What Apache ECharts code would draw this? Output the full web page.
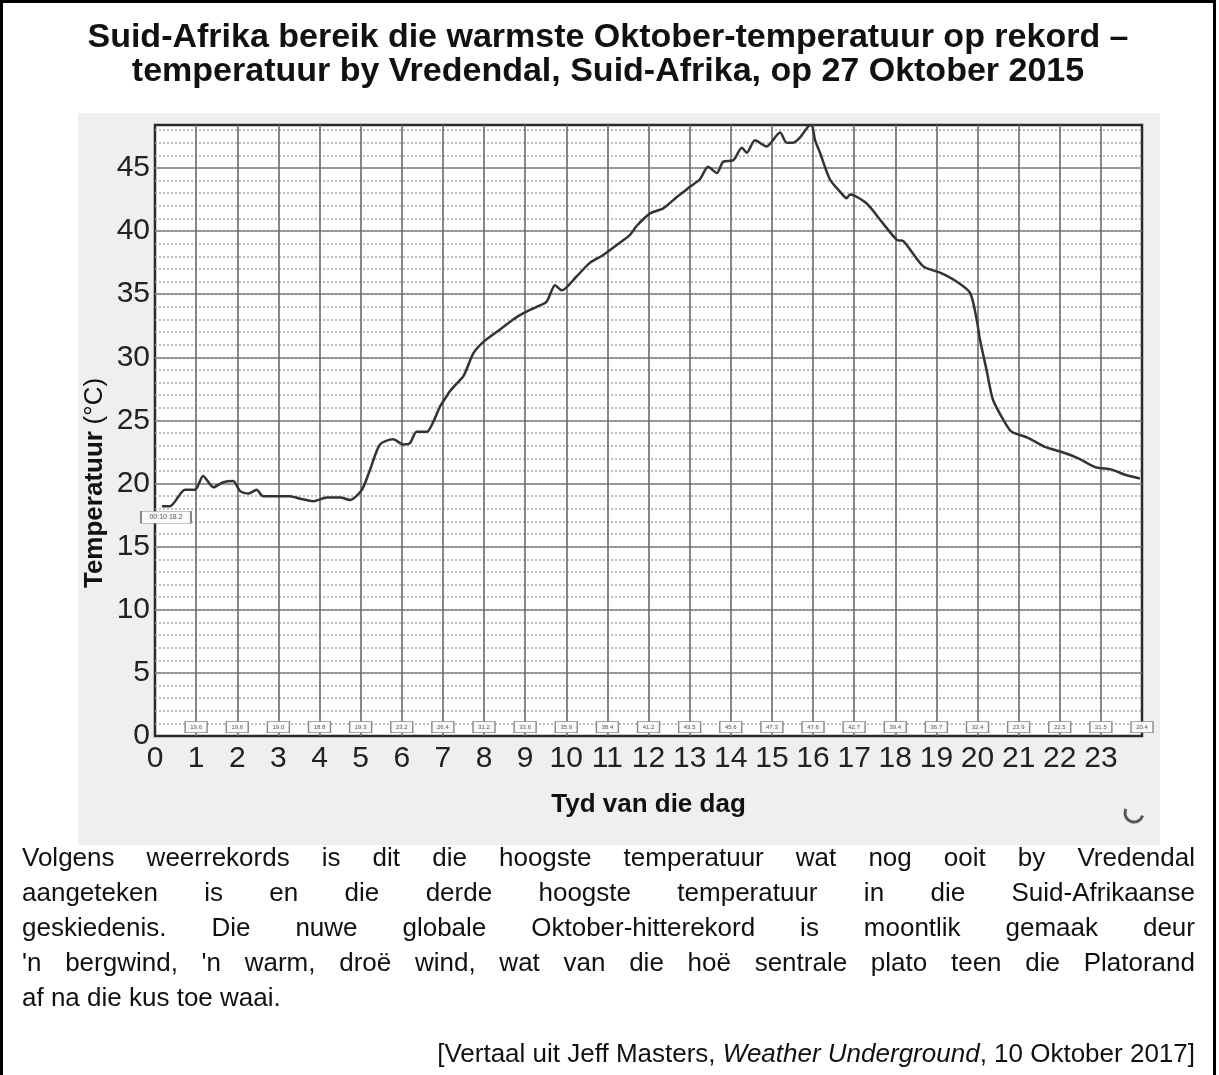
<!DOCTYPE html>
<html>
<head>
<meta charset="utf-8">
<script src="https://cdn.jsdelivr.net/npm/echarts@6/dist/echarts.min.js"></script>
<style>
  body { margin: 0; background: #fff; }
  #page { position: relative; width: 1219px; height: 1075px; overflow: hidden; background: #fff;
          font-family: "Liberation Sans", Arial, sans-serif; color: #111; }
  #frame { position: absolute; left: 0; top: 0; width: 1210px; height: 1100px;
           border: 3px solid #000; border-bottom: none; }
  #main { position: absolute; left: 0; top: 0; width: 1219px; height: 1075px; }
  #title { position: absolute; left: 0; top: 18px; width: 1216px; text-align: center;
           font-weight: bold; font-size: 34px; line-height: 34px; }
  #para { position: absolute; left: 22px; top: 840px; width: 1173px; font-size: 26px; line-height: 35px; }
  #para .j { text-align: justify; text-align-last: justify; }
  #cite { position: absolute; right: 24px; top: 1038px; font-size: 26px; line-height: 30px; }
</style>
</head>
<body>
<div id="page">
  <div id="main"></div>
  <div id="frame"></div>
  <div id="title">Suid-Afrika bereik die warmste Oktober-temperatuur op rekord –<br>temperatuur by Vredendal, Suid-Afrika, op 27 Oktober 2015</div>
  <div id="para">
    <div class="j">Volgens weerrekords is dit die hoogste temperatuur wat nog ooit by Vredendal</div>
    <div class="j">aangeteken is en die derde hoogste temperatuur in die Suid-Afrikaanse</div>
    <div class="j">geskiedenis. Die nuwe globale Oktober-hitterekord is moontlik gemaak deur</div>
    <div class="j">'n bergwind, 'n warm, droë wind, wat van die hoë sentrale plato teen die Platorand</div>
    <div>af na die kus toe waai.</div>
  </div>
  <div id="cite">[Vertaal uit Jeff Masters, <i>Weather Underground</i>, 10 Oktober 2017]</div>
</div>
<script>
// temperatuur deur die dag (uur, °C)
var hours = [0.17, 0.36, 0.73, 0.97, 1.17, 1.42, 1.66, 1.90, 2.07, 2.27, 2.47, 2.63, 2.96, 3.28, 3.53, 3.85,
  4.18, 4.50, 4.74, 5.03, 5.23, 5.47, 5.79, 6.04, 6.20, 6.36, 6.61, 6.77, 6.93, 7.09, 7.17, 7.30, 7.50, 7.74,
  7.98, 8.39, 8.71, 8.96, 9.28, 9.52, 9.73, 9.89, 10.25, 10.58, 10.90, 11.23, 11.55, 11.71, 12.04, 12.36,
  12.69, 13.01, 13.25, 13.45, 13.66, 13.82, 14.06, 14.27, 14.39, 14.59, 14.87, 15.20, 15.36, 15.52, 15.68,
  15.89, 15.97, 16.05, 16.17, 16.41, 16.66, 16.82, 16.90, 17.30, 17.63, 18.04, 18.20, 18.68, 19.09, 19.49,
  19.82, 19.98, 20.06, 20.22, 20.38, 20.71, 20.83, 21.24, 21.64, 22.05, 22.45, 22.86, 23.26, 23.59, 23.95];
var temps = [18.2, 18.2, 19.5, 19.5, 20.6, 19.7, 20.1, 20.2, 19.4, 19.2, 19.5, 19.0, 19.0, 19.0, 18.8, 18.6,
  18.9, 18.9, 18.7, 19.5, 21.1, 23.1, 23.5, 23.1, 23.2, 24.1, 24.1, 24.9, 26.1, 26.9, 27.3, 27.8, 28.5, 30.3,
  31.2, 32.2, 33.0, 33.5, 34.0, 34.4, 35.7, 35.3, 36.4, 37.5, 38.1, 38.9, 39.7, 40.4, 41.4, 41.8,
  42.7, 43.5, 44.1, 45.1, 44.6, 45.5, 45.6, 46.6, 46.2, 47.2, 46.7, 47.8, 47.0, 47.0, 47.4,
  48.3, 48.4, 47.2, 46.2, 44.1, 43.1, 42.6, 42.9, 42.2, 40.9, 39.3, 39.2, 37.2, 36.7, 36.0,
  35.1, 33.0, 31.4, 29.0, 26.6, 24.6, 24.1, 23.6, 22.9, 22.5, 22.0, 21.3, 21.1, 20.7, 20.4];

// uurlikse waardes in die klein kassies onder
var boxHours = [1, 2, 3, 4, 5, 6, 7, 8, 9, 10, 11, 12, 13, 14, 15, 16, 17, 18, 19, 20, 21, 22, 23, 24];
var boxTemps = [19.6, 19.6, 19.0, 18.8, 19.3, 23.2, 26.4, 31.2, 33.6, 35.9, 38.4, 41.2,
  43.5, 45.6, 47.3, 47.6, 42.7, 39.4, 36.7, 32.4, 23.9, 22.5, 21.5, 20.4];

var startLabel = '00:10';
var yMax = 48.4;
var xTicks = [0, 1, 2, 3, 4, 5, 6, 7, 8, 9, 10, 11, 12, 13, 14, 15, 16, 17, 18, 19, 20, 21, 22, 23];

var font = '"Liberation Sans", Arial, sans-serif';
var myChart = echarts.init(document.getElementById('main'));

var lineData = hours.map(function (h, i) { return [h, temps[i]]; });
var boxLevel = 0.7;
var boxData = boxHours.map(function (h, i) { return [h, boxLevel, boxTemps[i]]; });

option = {
    animation: false,
    textStyle: { fontFamily: font },
    graphic: [
        {
            type: 'rect', z: -10,
            shape: { x: 78, y: 113, width: 1082, height: 732 },
            style: { fill: '#efefef' }
        },
        {
            type: 'text', z: 10,
            x: 95, y: 483, rotation: Math.PI / 2,
            style: {
                text: '{b|Temperatuur}  {n|(°C)}',
                align: 'center', verticalAlign: 'middle',
                rich: {
                    b: { fontSize: 26, fontWeight: 'bold', fill: '#111', fontFamily: font },
                    n: { fontSize: 26, fill: '#111', fontFamily: font }
                }
            }
        },
        {
            type: 'arc', z: 10,
            shape: { cx: 1134, cy: 813, r: 9, startAngle: 0.3, endAngle: 3.6 },
            style: { stroke: '#555', lineWidth: 3, fill: null }
        }
    ],
    grid: {
        left: 155, top: 125, width: 987, height: 611,
        show: true, backgroundColor: '#ffffff', borderColor: '#2a2a2a', borderWidth: 2.5
    },
    xAxis: {
        type: 'value', min: 0, max: 24, interval: 1,
        name: 'Tyd van die dag', nameLocation: 'middle', nameGap: 56,
        nameTextStyle: { fontSize: 26, fontWeight: 'bold', color: '#111', fontFamily: font },
        axisLine: { show: false },
        axisTick: { show: false },
        axisLabel: {
            fontSize: 30, color: '#222', margin: 8, fontFamily: font,
            formatter: function (v) { return xTicks.indexOf(v) >= 0 ? String(v) : ''; }
        },
        splitLine: { show: true, showMinLine: false, showMaxLine: false,
            lineStyle: { color: '#6a6a6a', width: 1.6 } }
    },
    yAxis: [
        {
            type: 'value', position: 'left', min: 0, max: yMax, interval: 1,
            axisLine: { show: false }, axisTick: { show: false }, axisLabel: { show: false },
            splitLine: { show: true, showMinLine: false, showMaxLine: false,
                lineStyle: { color: '#a8a8a8', width: 1.5, type: [2, 2] } }
        },
        {
            type: 'value', position: 'left', min: 0, max: yMax, interval: 5,
            axisLine: { show: false }, axisTick: { show: false },
            axisLabel: {
                fontSize: 30, color: '#222', margin: 5, fontFamily: font,
                formatter: function (v) { return v % 5 === 0 ? String(v) : ''; }
            },
            splitLine: { show: true, showMinLine: false, showMaxLine: false,
                lineStyle: { color: '#808080', width: 1.6 } }
        }
    ],
    series: [
        {
            type: 'line', yAxisIndex: 1, z: 5,
            data: lineData,
            showSymbol: false, smooth: 0.25,
            lineStyle: { color: '#333', width: 2.5 },
            markPoint: {
                symbol: 'rect', symbolSize: [50, 12], symbolOffset: [4, 11],
                itemStyle: { color: '#fafafa', borderColor: '#888', borderWidth: 1 },
                label: { show: true, position: 'inside', fontSize: 7, color: '#555',
                    formatter: function () { return startLabel + ' ' + temps[0].toFixed(1); } },
                data: [{ coord: [hours[0], temps[0]] }]
            }
        },
        {
            type: 'scatter', yAxisIndex: 1, z: 4, clip: false,
            data: boxData,
            symbol: 'rect', symbolSize: [22, 11],
            itemStyle: { color: '#fafafa', borderColor: '#888', borderWidth: 1, opacity: 1 },
            label: { show: true, position: 'inside', fontSize: 6, color: '#555',
                formatter: function (p) { return p.value[2].toFixed(1); } }
        }
    ]
};
myChart.setOption(option);
</script>
</body>
</html>
